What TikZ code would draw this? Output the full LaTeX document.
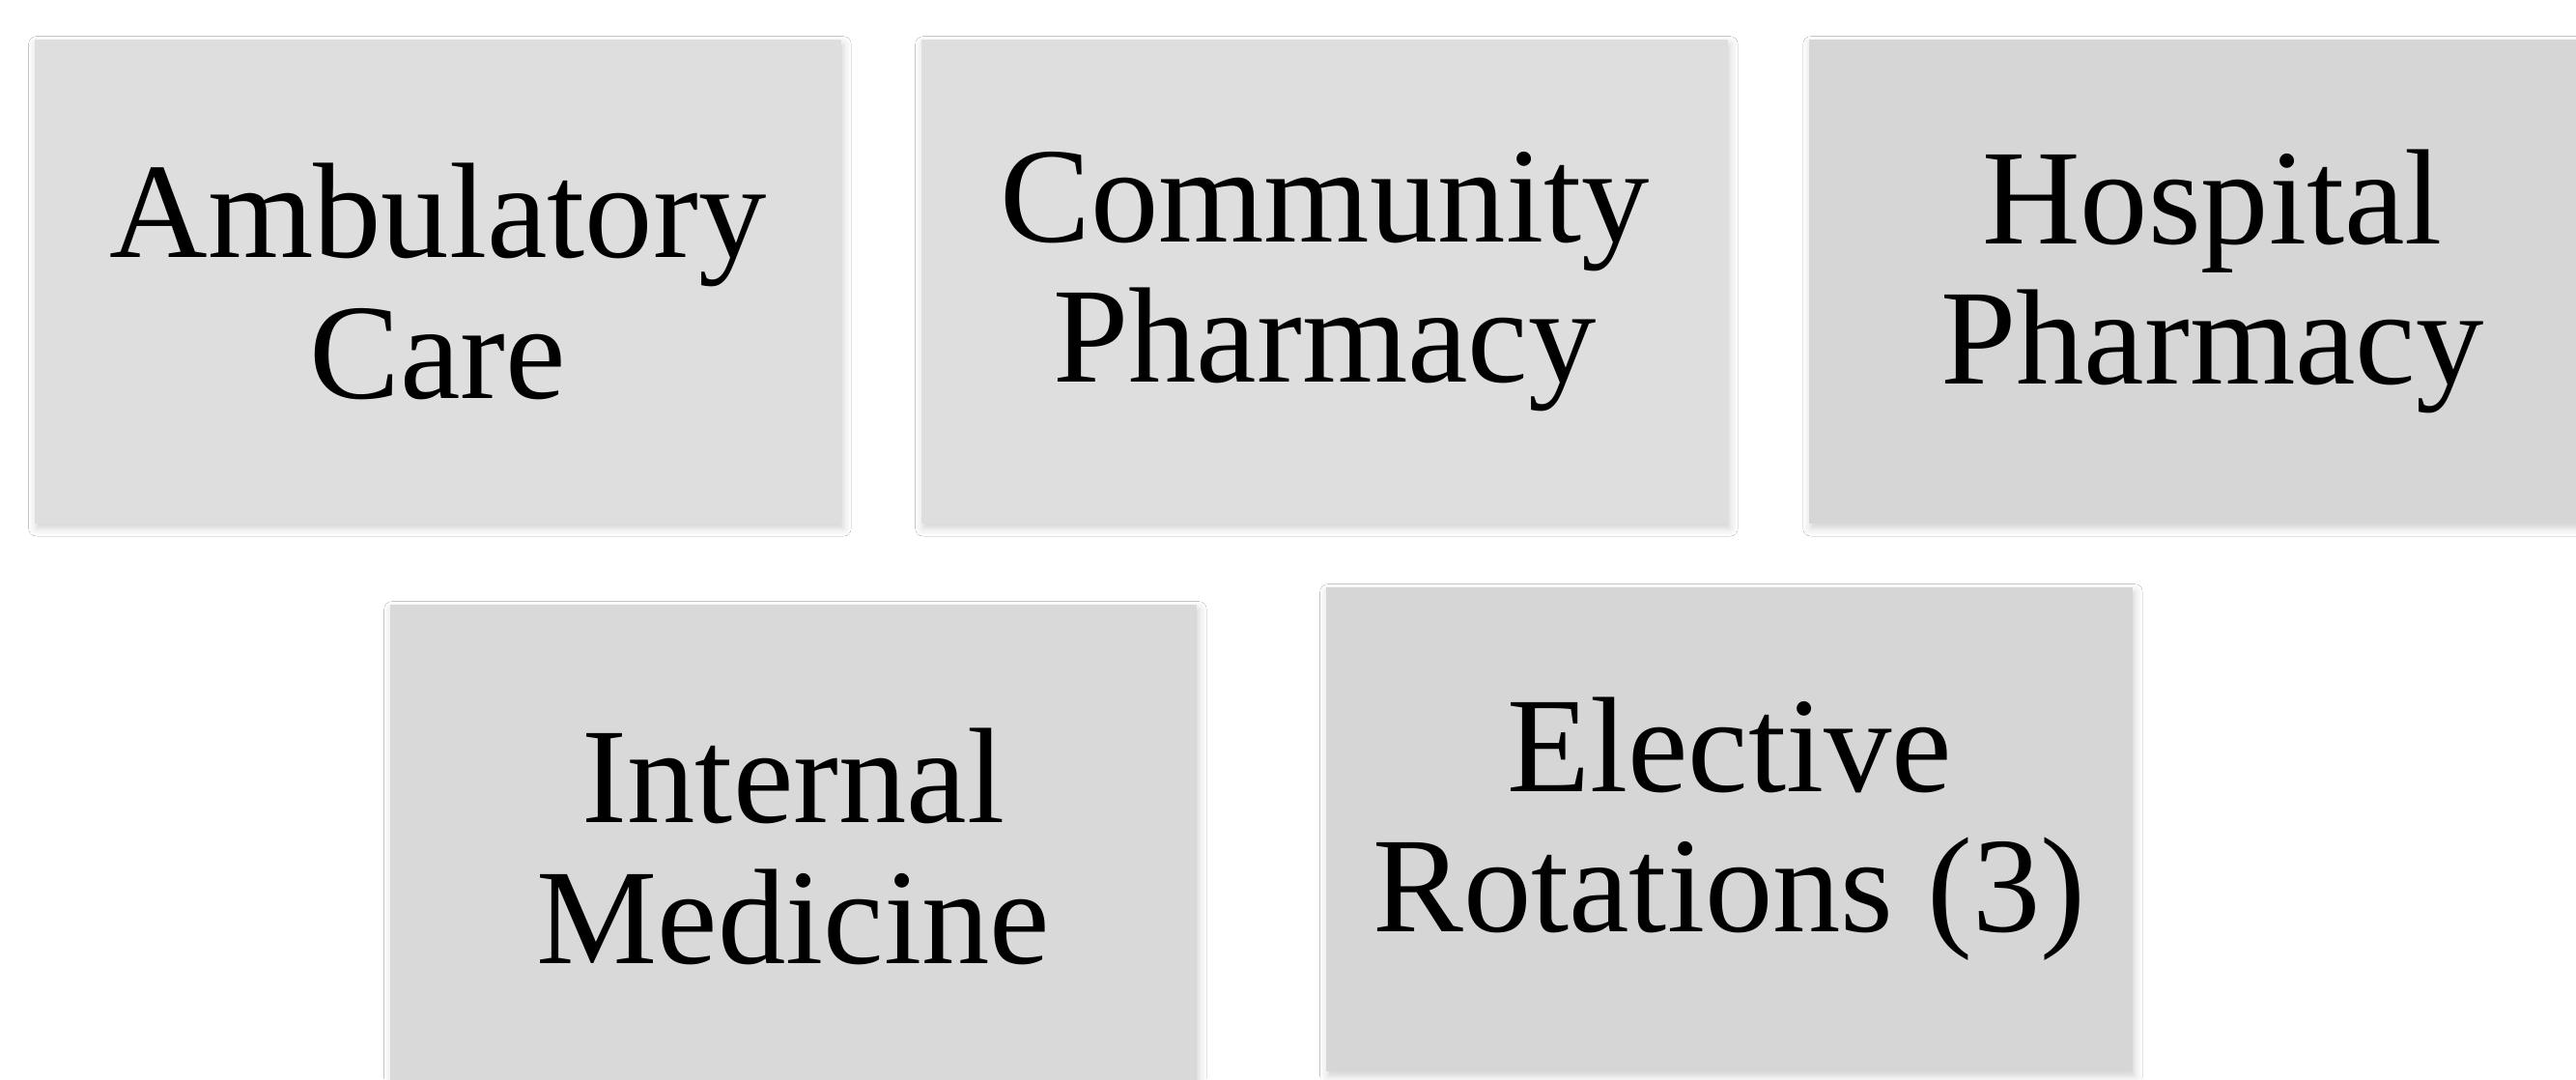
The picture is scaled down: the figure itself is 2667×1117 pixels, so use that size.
\documentclass[tikz,border=0pt]{standalone}
\usepackage{fontspec}
\setmainfont{Liberation Serif}
\usetikzlibrary{shadows.blur}
\definecolor{boxA}{HTML}{DEDEDE}
\definecolor{boxB}{HTML}{D6D6D6}
\definecolor{boxC}{HTML}{D9D9D9}
\tikzset{
  card/.style={rectangle, anchor=north west, inner sep=0pt,
    minimum width=8.35cm, minimum height=5.01cm,
    align=center, text=black,
    font=\fontsize{40pt}{41.3pt}\selectfont,
    blur shadow={shadow xshift=0.02cm, shadow yshift=-0.05cm, shadow blur radius=0.08cm, shadow opacity=18}}
}
\begin{document}
\begin{tikzpicture}[x=0.01cm,y=-0.01cm]
\useasboundingbox (0,0) rectangle (2667,1117);
\fill[white] (0,0) rectangle (2667,1117);
\node[card, fill=boxA] (amb) at (35,40) {Ambulatory\\Care};
\node[card, fill=boxA] (com) at (953,40) {Community\\Pharmacy};
\node[card, fill=boxB] (hos) at (1872,40) {Hospital\\Pharmacy};
\node[card, fill=boxC] (int) at (403,625) {Internal\\Medicine};
\node[card, fill=boxB] (ele) at (1372,607) {Elective\\Rotations (3)};
\end{tikzpicture}
\end{document}
